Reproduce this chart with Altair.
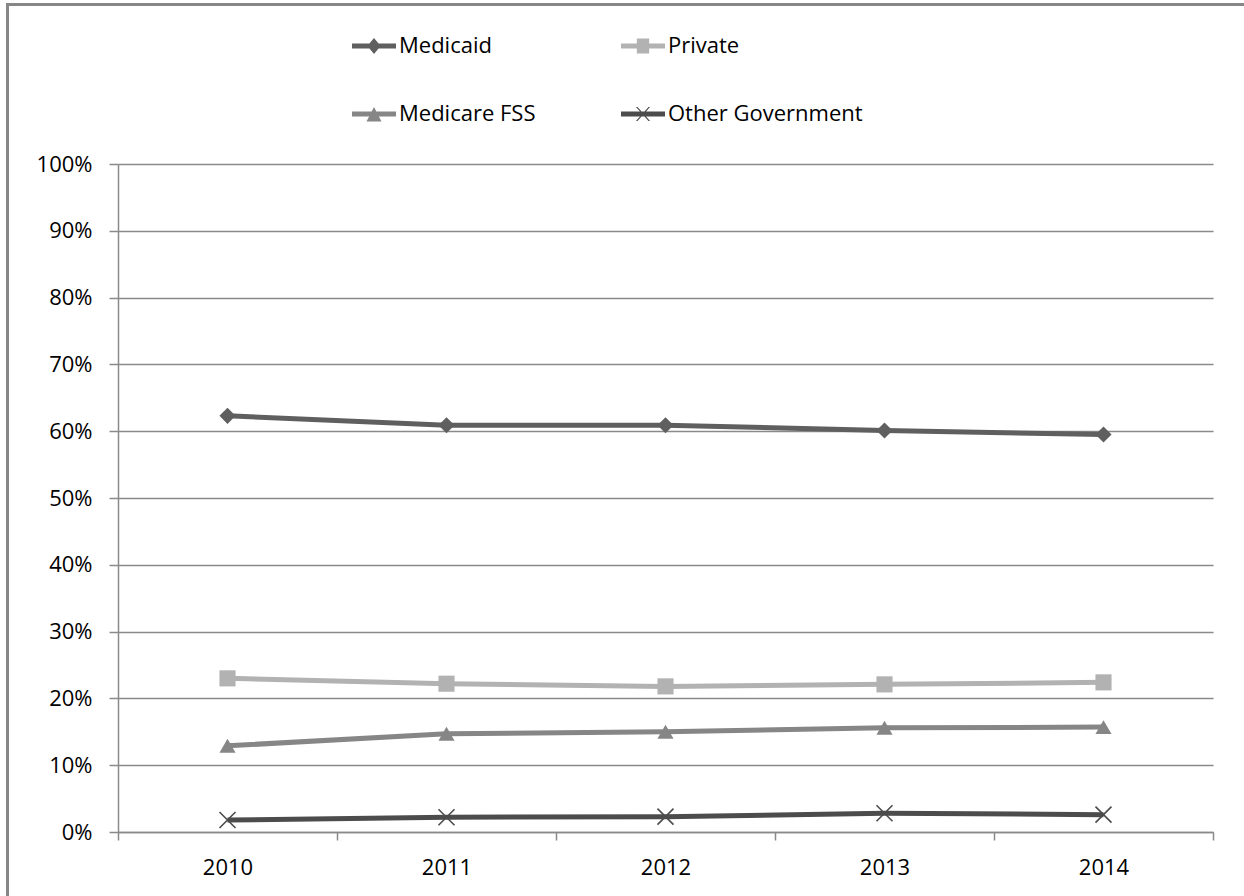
import altair as alt
import pandas as pd

# ---- data ----
years = ["2010", "2011", "2012", "2013", "2014"]
series_names = ["Medicaid", "Private", "Medicare FSS", "Other Government"]
medicaid = [62.3, 60.9, 60.9, 60.1, 59.5]
private = [23.0, 22.2, 21.8, 22.1, 22.4]
medicare_fss = [12.9, 14.7, 15.0, 15.6, 15.7]
other_government = [1.8, 2.2, 2.3, 2.8, 2.6]
y_ticks = [0, 10, 20, 30, 40, 50, 60, 70, 80, 90, 100]

# ---- styling ----
colors = ["#5f5f5f", "#b2b2b2", "#868686", "#4c4c4c"]
FONT = "Open Sans"
FS = 22
GRID = "#8a8a8a"

rows = []
for name, vals in zip(series_names, [medicaid, private, medicare_fss, other_government]):
    for yr, v in zip(years, vals):
        rows.append({"Year": yr, "Series": name, "Value": v})
df = pd.DataFrame(rows)

W, H = 1095, 668

x_enc = alt.X(
    "Year:O",
    scale=alt.Scale(domain=years, paddingInner=0, paddingOuter=0),
    axis=alt.Axis(
        title=None, labelAngle=0, tickBand="extent", grid=False,
        domainColor=GRID, domainWidth=1.5, tickColor=GRID, tickWidth=1.5,
        tickSize=8, labelPadding=17, labelFont=FONT, labelFontSize=FS,
        labelColor="black",
    ),
)
y_enc = alt.Y(
    "Value:Q",
    scale=alt.Scale(domain=[0, 100], nice=False),
    axis=alt.Axis(
        title=None, values=y_ticks, labelExpr="datum.value + '%'",
        grid=True, gridColor=GRID, gridWidth=1.5,
        domainColor=GRID, domainWidth=1.5, tickColor=GRID, tickWidth=1.5,
        tickSize=9, labelPadding=17, labelFont=FONT, labelFontSize=FS,
        labelColor="black",
    ),
)

def color_enc(legend=None):
    return alt.Color("Series:N", scale=alt.Scale(domain=series_names, range=colors), legend=legend)

base = alt.Chart(df)

lines = base.mark_line(strokeWidth=5).encode(x=x_enc, y=y_enc, color=color_enc())

filled_names = series_names[:3]
filled_pts = base.transform_filter(
    alt.FieldOneOfPredicate(field="Series", oneOf=filled_names)
).mark_point(filled=True, opacity=1, size=260).encode(
    x=x_enc, y=y_enc,
    color=color_enc(),
    shape=alt.Shape("Series:N", scale=alt.Scale(domain=filled_names,
                    range=["diamond", "square", "triangle-up"]), legend=None),
)

x_pts = base.transform_filter(
    alt.FieldEqualPredicate(field="Series", equal="Other Government")
).mark_point(shape="M-1,-1L1,1M-1,1L1,-1", filled=False, opacity=1,
             strokeWidth=1.6, size=256).encode(
    x=x_enc, y=y_enc, color=color_enc(),
)

# legend symbols: line segment with marker, in the -1..1 symbol box
legend_paths = [
    "M-1,-0.11L1,-0.11L1,0.11L-1,0.11Z M-0.3,0L0,-0.36L0.3,0L0,0.36Z",
    "M-1,-0.11L1,-0.11L1,0.11L-1,0.11Z M-0.28,-0.34L0.28,-0.34L0.28,0.34L-0.28,0.34Z",
    "M-1,-0.11L1,-0.11L1,0.11L-1,0.11Z M0,-0.32L0.34,0.34L-0.34,0.34Z",
    "M-1,-0.11L1,-0.11L1,0.11L-1,0.11Z M-0.32,-0.32L-0.25,-0.32L0.32,0.32L0.25,0.32Z M0.25,-0.32L0.32,-0.32L-0.25,0.32L-0.32,0.32Z",
]
leg = alt.Legend(
    title=None, orient="none", legendX=234, legendY=-140, columns=2,
    direction="horizontal", labelLimit=0,
    columnPadding=85, rowPadding=35, labelFont=FONT, labelFontSize=FS,
    labelColor="black", symbolSize=1936, symbolStrokeWidth=0, labelOffset=3,
    symbolOpacity=1,
)
legend_layer = base.transform_filter("false").mark_point(
    filled=True, opacity=1, size=1936
).encode(
    x=x_enc, y=y_enc,
    color=color_enc(leg),
    shape=alt.Shape("Series:N", scale=alt.Scale(domain=series_names, range=legend_paths), legend=leg),
)

# outer chart frame (left and top edges; right/bottom fall outside the page)
frame_df = pd.DataFrame({"f": [0]})
frame_left = alt.Chart(frame_df).mark_rule(stroke="#878787", strokeWidth=3).encode(
    x=alt.value(-110.5), y=alt.value(-159.5), y2=alt.value(900)
)
frame_top = alt.Chart(frame_df).mark_rule(stroke="#878787", strokeWidth=3).encode(
    y=alt.value(-159.5), x=alt.value(-112), x2=alt.value(1300)
)

chart = alt.layer(frame_left, frame_top, lines, filled_pts, x_pts, legend_layer).resolve_scale(
    color="independent", shape="independent"
).properties(
    width=W, height=H,
    autosize=alt.AutoSizeParams(type="none"),
    padding={"left": 118, "top": 164, "right": 31, "bottom": 64},
    background="white",
).configure_view(stroke=None)

chart.save("out.html", embed_options={"renderer": "svg", "actions": False})
